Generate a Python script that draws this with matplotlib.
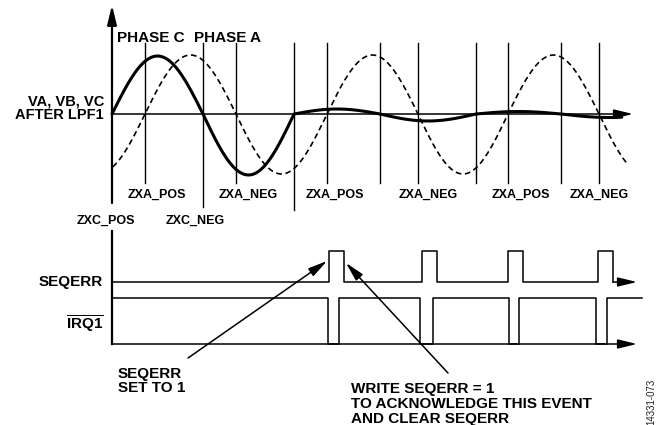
import numpy as np
import matplotlib
matplotlib.use("Agg")
import matplotlib.pyplot as plt

plt.rcParams["font.family"] = ["Liberation Sans", "DejaVu Sans"]
plt.rcParams["mathtext.fontset"] = "custom"
plt.rcParams["mathtext.bf"] = "Liberation Sans:bold"
plt.rcParams["mathtext.rm"] = "Liberation Sans:bold"

# ---- waveform data (drawing units: x to the right, y downward) ----
BASE_Y = 114          # zero level of the phase voltages
AXIS_X = 112          # time origin

# phase C: zero crossings and signed half-cycle peaks
phase_c_cross = [112, 203, 294, 380, 476, 561, 657]
phase_c_peak = [58, -61, 5, -7, 2.5, -3.5]
phase_c_end = 622

# phase A: zero crossings and signed half-cycle peaks
phase_a_cross = [54, 145, 236, 327, 418, 508, 599, 690]
phase_a_peak = [-59, 59, -60, 59, -60, 59, -60]
phase_a_end = 628

# zero-crossing markers
marker_x = [145, 203, 236, 294, 327, 380, 418, 476, 508, 561, 599]
marker_bottom = [183, 207, 183, 210, 183, 183, 183, 183, 183, 183, 183]
MARKER_TOP = 43

zxa_labels = ["ZXA_POS", "ZXA_NEG", "ZXA_POS", "ZXA_NEG", "ZXA_POS", "ZXA_NEG"]
zxa_label_x = [157, 248, 335, 428, 521, 599]
zxc_labels = ["ZXC_POS", "ZXC_NEG"]
zxc_label_x = [106, 195]

# SEQERR pulses and IRQ1 low periods
SEQ_LOW, SEQ_HIGH = 282, 251
seqerr_rise = [329, 422, 508, 598]
SEQ_WIDTH = 15
IRQ_HIGH, IRQ_LOW = 298, 344
irq_fall = [328, 420, 509, 596]
irq_rise = [339, 433, 519, 607]
IRQ_END = 642
ARROW_END = 637


def half_cycles(cross, peaks, x_start, x_end, n=80):
    xs, ys = [], []
    for a, b, p in zip(cross[:-1], cross[1:], peaks):
        t = np.linspace(a, b, n)
        xs.append(t)
        ys.append(p * np.sin(np.pi * (t - a) / (b - a)))
    x = np.concatenate(xs)
    y = np.concatenate(ys)
    keep = (x >= x_start) & (x <= x_end)
    return x[keep], BASE_Y - y[keep]


def arrow(ax, tail, tip, lw=1.0, hl=1.45, hw=0.35, scale=8):
    ax.annotate("", xy=tip, xytext=tail,
                arrowprops=dict(arrowstyle=f"-|>,head_length={hl},head_width={hw}",
                                mutation_scale=scale, lw=lw, color="black",
                                shrinkA=0, shrinkB=0))


fig = plt.figure(figsize=(6.63, 4.25), dpi=100)
ax = fig.add_axes([0, 0, 1, 1])
ax.set_xlim(0, 663)
ax.set_ylim(425, 0)
ax.axis("off")

# ── axes of the upper plot ─────────────────────────────────────────────
arrow(ax, (AXIS_X, 203), (AXIS_X, 5), lw=1.6)
arrow(ax, (AXIS_X, BASE_Y), (633, BASE_Y), lw=1.1)
ax.plot([AXIS_X, AXIS_X], [231, IRQ_LOW], color="black", lw=1.6)

for x, yb in zip(marker_x, marker_bottom):
    ax.plot([x, x], [MARKER_TOP, yb], color="black", lw=1.0)

# ── phase voltages ────────────────────────────────────────────────────
xa, ya = half_cycles(phase_a_cross, phase_a_peak, AXIS_X, phase_a_end)
ax.plot(xa, ya, color="black", lw=1.2, dashes=[3.4, 2.2])
xc, yc = half_cycles(phase_c_cross, phase_c_peak, AXIS_X, phase_c_end)
ax.plot(xc, yc, color="black", lw=2.2, solid_capstyle="round")

# ── SEQERR trace ──────────────────────────────────────────────────────
sx, sy = [AXIS_X], [SEQ_LOW]
for r in seqerr_rise:
    sx += [r, r, r + SEQ_WIDTH, r + SEQ_WIDTH]
    sy += [SEQ_LOW, SEQ_HIGH, SEQ_HIGH, SEQ_LOW]
ax.plot(sx, sy, color="black", lw=1.1)
arrow(ax, (sx[-1], SEQ_LOW), (ARROW_END, SEQ_LOW), lw=1.1)

# ── IRQ1 trace ────────────────────────────────────────────────────────
ix, iy = [AXIS_X], [IRQ_HIGH]
for f, r in zip(irq_fall, irq_rise):
    ix += [f, f, r, r]
    iy += [IRQ_HIGH, IRQ_LOW, IRQ_LOW, IRQ_HIGH]
ix.append(IRQ_END)
iy.append(IRQ_HIGH)
ax.plot(ix, iy, color="black", lw=1.1)
arrow(ax, (AXIS_X, IRQ_LOW), (ARROW_END, IRQ_LOW), lw=1.1)

# ── labels (multi-line texts are anchored on their last baseline) ────
big = dict(fontsize=11, fontweight="bold", color="black", va="baseline")
small = dict(fontsize=9, fontweight="bold", color="black", va="baseline")

ax.text(117, 42, "PHASE C", ha="left", **big)
ax.text(194, 42, "PHASE A", ha="left", **big)
ax.text(104, 118.5, "VA, VB, VC\nAFTER LPF1", ha="right", multialignment="right",
        linespacing=0.9, fontsize=10.5, fontweight="bold", color="black",
        va="baseline")

for lab, x in zip(zxa_labels, zxa_label_x):
    ax.text(x, 198, lab, ha="center", **small)
for lab, x in zip(zxc_labels, zxc_label_x):
    ax.text(x, 224, lab, ha="center", **small)

ax.text(103, 286, "SEQERR", ha="right", **big)
ax.text(104, 330, r"$\overline{\mathbf{IRQ1}}$", ha="right", **big)

ax.text(118, 392, "SEQERR\nSET TO 1", ha="left", linespacing=0.99, **big)
arrow(ax, (188, 358), (327, 261), lw=1.1)

ax.text(351, 423, "WRITE SEQERR = 1\nTO ACKNOWLEDGE THIS EVENT\nAND CLEAR SEQERR",
        ha="left", linespacing=1.08, **big)
arrow(ax, (448, 373), (346, 263), lw=1.1)

ax.text(651, 402, "14331-073", rotation=90, ha="center", va="center",
        fontsize=7, color="#222222")

fig.savefig("out.png", dpi=100)
